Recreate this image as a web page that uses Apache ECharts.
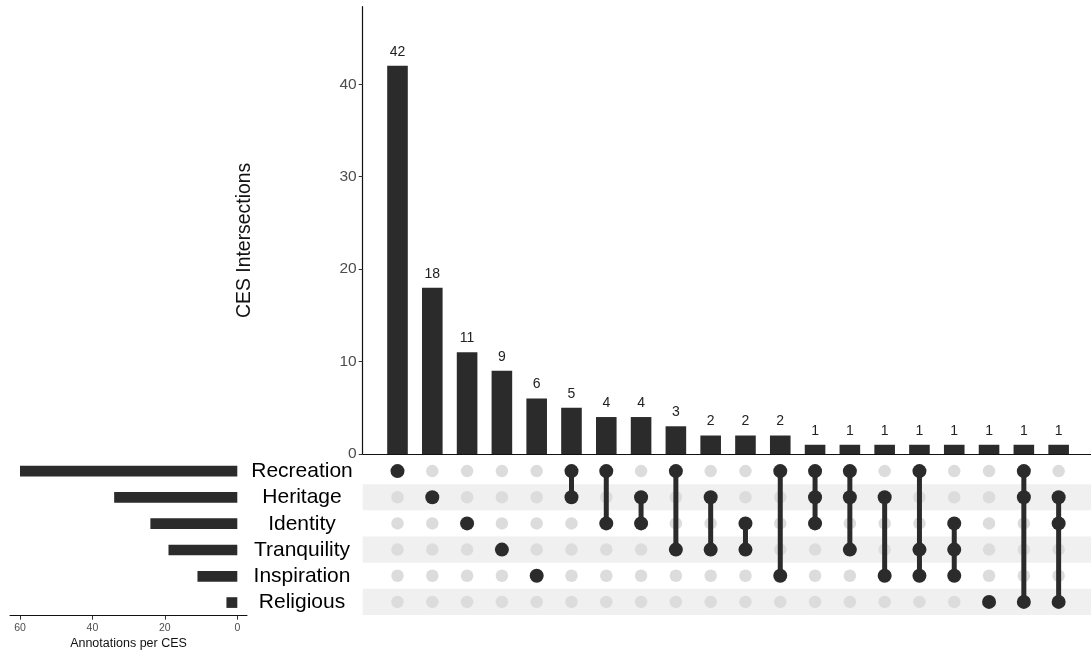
<!DOCTYPE html>
<html><head><meta charset="utf-8">
<script src="https://cdn.jsdelivr.net/npm/echarts@6/dist/echarts.min.js"></script>
<style>html,body{margin:0;padding:0;background:#fff}#c{width:1091px;height:655px}</style>
</head><body><div id="c"></div>
<script>
var sets = ['Recreation','Heritage','Identity','Tranquility','Inspiration','Religious'];
var setSizes = [60,34,24,19,11,3];
var intersections = [
  [0],[1],[2],[3],[4],[0,1],[0,2],[1,2],[0,3],[1,3],[2,3],[0,4],
  [0,1,2],[0,1,3],[1,4],[0,3,4],[2,3,4],[5],[0,1,5],[1,2,5]
];
var counts = [42,18,11,9,6,5,4,4,3,2,2,2,1,1,1,1,1,1,1,1];
var yTicks = [0,10,20,30,40];
var leftTicks = [0,20,40,60];

var dark = '#2b2b2b';
var XMAX = 20.93;
var barData = counts.map(function(v,i){return [i+1, v];});
var bgDots = [], actDots = [], segs = [];
intersections.forEach(function(s,i){
  for (var r=0;r<sets.length;r++){
    if (s.indexOf(r) >= 0) actDots.push([i+1, r]); else bgDots.push([i+1, r]);
  }
  if (s.length > 1) segs.push([i+1, Math.min.apply(null,s), Math.max.apply(null,s)]);
});

var chart = echarts.init(document.getElementById('c'), null, {renderer:'canvas'});
chart.setOption({
  animation:false,
  textStyle:{fontFamily:'Liberation Sans, Arial, sans-serif'},
  grid:[
    {left:362.7, right:0, top:6.7, height:447.3},
    {left:362.7, right:0, top:458, height:157},
    {left:10, width:237, top:458, height:157.7},
    {left:20, width:217.3, top:458, height:157.7}
  ],
  xAxis:[
    {gridIndex:0, type:'value', min:0, max:XMAX, show:true,
     axisLine:{show:true, onZero:false, lineStyle:{color:'#111', width:1.2}},
     axisTick:{show:false}, axisLabel:{show:false}, splitLine:{show:false}},
    {gridIndex:1, type:'value', min:0, max:XMAX, show:false},
    {gridIndex:2, type:'value', min:-2.76, max:62.7, inverse:true,
     axisLine:{show:true, lineStyle:{color:'#111', width:1}},
     axisTick:{show:false}, axisLabel:{show:false}, splitLine:{show:false},
     name:'Annotations per CES', nameLocation:'middle', nameGap:21,
     nameTextStyle:{color:'#111', fontSize:12.5}},
    {gridIndex:3, type:'value', min:0, max:60, interval:20, inverse:true,
     axisLine:{show:false},
     axisTick:{show:true, length:4, lineStyle:{color:'#333'}},
     axisLabel:{color:'#4d4d4d', fontSize:10.5, margin:7,
       formatter:function(v){return leftTicks.indexOf(v)>=0 ? String(v) : '';}},
     splitLine:{show:false}}
  ],
  yAxis:[
    {gridIndex:0, type:'value', min:0, max:48.4, interval:10,
     axisLine:{show:true, lineStyle:{color:'#111', width:1.2}},
     axisTick:{show:true, length:4, lineStyle:{color:'#333'}},
     axisLabel:{color:'#4d4d4d', fontSize:15.5, margin:6, showMaxLabel:false,
       formatter:function(v){return yTicks.indexOf(v)>=0 ? String(v) : '';}},
     splitLine:{show:false},
     name:'CES Intersections', nameLocation:'middle', nameGap:109, nameRotate:90,
     nameTextStyle:{color:'#111', fontSize:19.4, padding:[0,20,0,0]}},
    {gridIndex:1, type:'category', data:sets, inverse:true,
     axisLine:{show:false}, axisTick:{show:false}, axisLabel:{show:false},
     splitArea:{show:true, areaStyle:{color:['rgba(0,0,0,0)','#f0f0f0']}}},
    {gridIndex:2, type:'category', data:sets, inverse:true, position:'right',
     axisLine:{show:false}, axisTick:{show:false},
     axisLabel:{show:true, interval:0, color:'#000', fontSize:21, margin:55, align:'center'}},
    {gridIndex:3, type:'category', data:sets, inverse:true, show:false}
  ],
  series:[
    {type:'bar', xAxisIndex:0, yAxisIndex:0, data:barData, barWidth:20.6,
     itemStyle:{color:dark},
     label:{show:true, position:'top', distance:7, color:'#222', fontSize:14}},
    {type:'scatter', xAxisIndex:1, yAxisIndex:1, data:bgDots, symbolSize:12.5,
     itemStyle:{color:'#dcdcdc', opacity:1}, z:2},
    {type:'custom', xAxisIndex:1, yAxisIndex:1, data:segs, z:3,
     renderItem:function(params, api){
       var a = api.coord([api.value(0), api.value(1)]);
       var b = api.coord([api.value(0), api.value(2)]);
       return {type:'line', shape:{x1:a[0], y1:a[1], x2:b[0], y2:b[1]},
               style:{stroke:dark, lineWidth:5}};
     }},
    {type:'scatter', xAxisIndex:1, yAxisIndex:1, data:actDots, symbolSize:14,
     itemStyle:{color:dark, opacity:1}, z:4},
    {type:'bar', xAxisIndex:3, yAxisIndex:3, data:setSizes, barWidth:10.7,
     itemStyle:{color:dark}}
  ]
});
</script></body></html>
